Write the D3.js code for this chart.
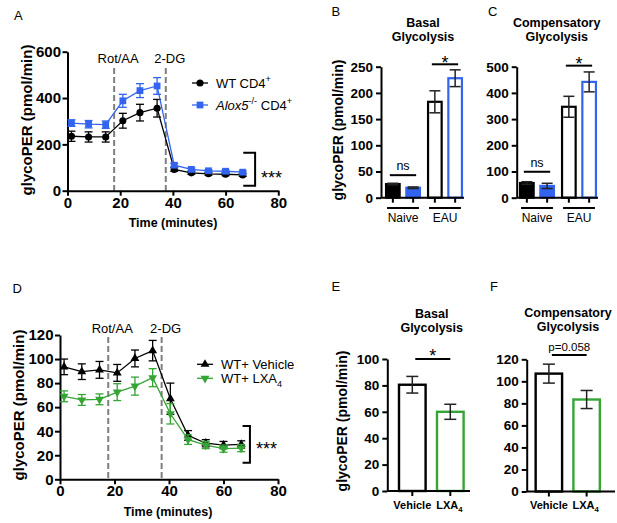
<!DOCTYPE html>
<html><head><meta charset="utf-8">
<script src="https://cdn.jsdelivr.net/npm/d3@7"></script>
<style>body{margin:0;background:#fff} svg{display:block}</style>
</head><body><svg id="c" width="617" height="523"></svg>
<script>
// ---------- DATA ----------
const times = [1.5, 8, 14.5, 21, 27.5, 34, 40.5, 47, 53.5, 60, 66.5];
const timeTicks = [0, 20, 40, 60, 80];
const injTimes = [17.7, 37.3];
const injLabels = ["Rot/AA", "2-DG"];

// Panel A
const wtA = [235, 232, 232, 302, 337, 356, 92, 77, 73, 71, 68];
const wtAErr = [22, 22, 22, 32, 36, 38, 8, 6, 6, 6, 6];
const koA = [292, 287, 285, 388, 432, 452, 110, 92, 86, 84, 80];
const koAErr = [14, 16, 16, 28, 30, 36, 8, 6, 5, 5, 5];
const yTicksA = [0, 200, 400, 600];

// Panel D
const vehD = [93.5, 89.5, 91, 88.5, 100.5, 107, 67, 36.5, 30, 28.5, 29];
const vehDErr = [6.5, 6.5, 7, 7, 7, 8.5, 13, 4, 3, 3, 3];
const lxaD = [69, 66, 66.5, 72.5, 77.5, 84.5, 54.5, 33, 28.5, 25.5, 26];
const lxaDErr = [4.5, 4.5, 4.5, 7, 7.5, 7.5, 8.5, 4, 3, 3, 3];
const yTicksD = [0, 20, 40, 60, 80, 100, 120];

// Panels B, C
const groupsBC = ["Naive", "EAU"];
const seriesBC = ["WT", "Alox5"];
const basalWT = [26, 183], basalWTErr = [1.5, 21];
const basalKO = [19, 228], basalKOErr = [1.5, 16];
const compWT = [56, 347], compWTErr = [5, 40];
const compKO = [45, 442], compKOErr = [10, 38];
const yTicksB = [0, 50, 100, 150, 200, 250];
const yTicksC = [0, 100, 200, 300, 400, 500];

// Panels E, F
const catsEF = ["Vehicle", "LXA4"];
const basalEF = [80.5, 60], basalEFErr = [6.3, 5.7];
const compEF = [107, 83.5], compEFErr = [8.6, 8.2];
const yTicksE = [0, 20, 40, 60, 80, 100];
const yTicksF = [0, 20, 40, 60, 80, 100, 120];

// ---------- HELPERS ----------
const FONT = '"Liberation Sans", Arial, Helvetica, sans-serif';
const BLUE = "#3264f0", GREEN = "#35a535", GRAY = "#7f7f7f";
const svg = d3.select("#c");
svg.append("rect").attr("width", 617).attr("height", 523).attr("fill", "#fff");

function txt(g, x, y, s, o = {}) {
  const t = g.append("text").attr("x", x).attr("y", y).text(s)
    .attr("font-family", FONT).attr("font-size", o.size || 13)
    .attr("font-weight", o.weight || "normal")
    .attr("text-anchor", o.anchor || "start").attr("fill", "#000");
  if (o.style) t.attr("font-style", o.style);
  return t;
}
function rich(g, x, y, parts, o = {}) {
  const size = o.size || 13;
  const t = g.append("text").attr("x", x).attr("y", y).attr("font-family", FONT)
    .attr("font-size", size).attr("font-weight", o.weight || "normal")
    .attr("text-anchor", o.anchor || "start").attr("fill", "#000");
  let shift = 0;
  parts.forEach(p => {
    const target = p.sup ? -0.42 * size : p.sub ? 0.28 * size : 0;
    const ts = t.append("tspan").text(p.t).attr("dy", target - shift);
    shift = target;
    if (p.sup || p.sub) ts.attr("font-size", size * 0.7);
    if (p.italic) ts.attr("font-style", "italic");
  });
  return t;
}
function ylabel(g, bx, cy, size) {
  g.append("text").attr("transform", `translate(${bx},${cy}) rotate(-90)`)
    .attr("text-anchor", "middle").attr("font-family", FONT).attr("font-size", size)
    .attr("font-weight", "bold").text("glycoPER (pmol/min)");
}
function styleAxis(a, fs) {
  a.attr("font-family", FONT).attr("font-size", fs);
  a.select(".domain").attr("stroke-width", 2).attr("stroke", "#000");
  a.selectAll(".tick line").attr("stroke-width", 2).attr("stroke", "#000");
  a.selectAll(".tick text").attr("font-weight", "bold").attr("fill", "#000");
}
function errBar(g, cx, yv, cap, color, sw) {
  g.append("line").attr("x1", cx).attr("x2", cx).attr("y1", yv[0]).attr("y2", yv[1]).attr("stroke", color).attr("stroke-width", sw);
  yv.forEach(yy => g.append("line").attr("x1", cx - cap / 2).attr("x2", cx + cap / 2).attr("y1", yy).attr("y2", yy).attr("stroke", color).attr("stroke-width", sw));
}
function panelLetter(x, y, s) { txt(svg, x, y, s, { size: 13 }); }

// ---------- LINE PANELS ----------
function linePanel(cfg) {
  const g = svg.append("g");
  const x = d3.scaleLinear().domain([0, 80]).range(cfg.xr);
  const y = d3.scaleLinear().domain([0, cfg.yMax]).range(cfg.yr);
  injTimes.forEach((t, i) => {
    g.append("line").attr("x1", x(t)).attr("x2", x(t)).attr("y1", cfg.dashTop).attr("y2", y(0))
      .attr("stroke", GRAY).attr("stroke-width", 2).attr("stroke-dasharray", "6,3");
    txt(g, x(t) + 4, cfg.injY, injLabels[i], { anchor: "middle", size: 13 });
  });
  const ya = g.append("g").attr("transform", `translate(${cfg.xr[0]},0)`)
    .call(d3.axisLeft(y).tickValues(cfg.yTicks).tickSize(5).tickSizeOuter(0).tickPadding(1.5));
  const xa = g.append("g").attr("transform", `translate(0,${cfg.yr[0]})`)
    .call(d3.axisBottom(x).tickValues(timeTicks).tickSize(5).tickSizeOuter(0).tickPadding(1.5));
  styleAxis(ya, 15); styleAxis(xa, 15);
  cfg.series.forEach(s => {
    const pts = times.map((t, i) => ({ t, v: s.vals[i], e: s.errs[i] }));
    pts.forEach(p => errBar(g, x(p.t), [y(p.v + p.e), y(p.v - p.e)], 8, s.color, 1.3));
    g.append("path").datum(pts).attr("d", d3.line().x(p => x(p.t)).y(p => y(p.v)))
      .attr("fill", "none").attr("stroke", s.color).attr("stroke-width", 1.3);
    g.selectAll(null).data(pts).join("path")
      .attr("transform", p => `translate(${x(p.t)},${y(p.v)})${s.down ? " rotate(180)" : ""}`)
      .attr("d", d3.symbol().type(s.symbol).size(s.size)).attr("fill", s.color);
  });
  // significance bracket
  const b = cfg.bracket;
  g.append("path").attr("d", `M${x(b.t0)},${y(b.top)}H${x(b.t1)}V${y(b.bot)}H${x(b.t0)}`)
    .attr("fill", "none").attr("stroke", "#000").attr("stroke-width", 2);
  txt(g, x(b.t1) + 6, b.starY, "***", { size: 18 });
  // x label
  txt(g, cfg.xlab[0], cfg.xlab[1], "Time (minutes)", { size: 12.5, weight: "bold", anchor: "middle" });
  ylabel(g, cfg.ylab[0], cfg.ylab[1], 15);
  // legend
  cfg.series.forEach((s, i) => {
    const ly = cfg.leg[1] + i * cfg.leg[2];
    g.append("line").attr("x1", cfg.leg[0] - 8).attr("x2", cfg.leg[0] + 8).attr("y1", ly).attr("y2", ly)
      .attr("stroke", s.color).attr("stroke-width", 1.3);
    g.append("path").attr("transform", `translate(${cfg.leg[0]},${ly})${s.down ? " rotate(180)" : ""}`)
      .attr("d", d3.symbol().type(s.symbol).size(s.size)).attr("fill", s.color);
    rich(g, cfg.leg[0] + 16, ly + 4.7, s.label, { size: 13 });
  });
}

linePanel({
  xr: [67.5, 278.3], yr: [190.7, 51.7], yMax: 600, yTicks: yTicksA,
  dashTop: 68, injY: 63,
  series: [
    { vals: wtA, errs: wtAErr, color: "#000", symbol: d3.symbolCircle, size: 40,
      label: [{ t: "WT CD4" }, { t: "+", sup: true }] },
    { vals: koA, errs: koAErr, color: BLUE, symbol: d3.symbolSquare, size: 46,
      label: [{ t: "Alox5", italic: true }, { t: "-/-", sup: true }, { t: " CD4" }, { t: "+", sup: true }] }
  ],
  bracket: { t0: 66.7, t1: 71.2, top: 164, bot: 21.6, starY: 184 },
  xlab: [173, 227], ylab: [32, 120], leg: [200, 83, 22]
});
linePanel({
  xr: [60, 278], yr: [479.3, 335], yMax: 120, yTicks: yTicksD,
  dashTop: 337, injY: 333,
  series: [
    { vals: vehD, errs: vehDErr, color: "#000", symbol: d3.symbolTriangle, size: 34,
      label: [{ t: "WT+ Vehicle" }] },
    { vals: lxaD, errs: lxaDErr, color: GREEN, symbol: d3.symbolTriangle, size: 34, down: true,
      label: [{ t: "WT+ LXA" }, { t: "4", sub: true }] }
  ],
  bracket: { t0: 67, t1: 69.7, top: 44.3, bot: 13.8, starY: 454.5 },
  xlab: [168, 516], ylab: [24, 405], leg: [205, 364.3, 14]
});

// ---------- GROUPED BAR PANELS (B, C) ----------
function groupedBars(cfg) {
  const g = svg.append("g");
  const y = d3.scaleLinear().domain([0, cfg.yMax]).range([cfg.yb, cfg.yt]);
  const xg = d3.scaleBand().domain(groupsBC).range(cfg.gr);
  const xs = d3.scaleBand().domain(seriesBC).range([0, xg.bandwidth()]).paddingInner(0.33).paddingOuter(0.2);
  const cx = (gi, si) => xg(groupsBC[gi]) + xs(seriesBC[si]) + xs.bandwidth() / 2;
  const bw = xs.bandwidth();
  const colors = ["#000", BLUE];
  const filled = [true, false];
  cfg.series.forEach((s, si) => {
    s.vals.forEach((v, gi) => {
      const c = cx(gi, si);
      g.append("rect").attr("x", c - bw / 2).attr("y", y(v)).attr("width", bw).attr("height", y(0) - y(v))
        .attr("fill", filled[gi] ? colors[si] : "#fff").attr("stroke", colors[si]).attr("stroke-width", 2.2);
      errBar(g, c, [y(v + s.errs[gi]), y(v - s.errs[gi])], 11, "#222", 1.5);
    });
  });
  const ya = g.append("g").attr("transform", `translate(${cfg.ax},0)`)
    .call(d3.axisLeft(y).tickValues(cfg.yTicks).tickSize(5).tickSizeOuter(0).tickPadding(3));
  styleAxis(ya, 13.5);
  g.append("line").attr("x1", cfg.ax).attr("x2", cfg.axEnd).attr("y1", y(0)).attr("y2", y(0)).attr("stroke", "#000").attr("stroke-width", 2);
  groupsBC.forEach((gr, gi) => seriesBC.forEach((s, si) => {
    const c = cx(gi, si);
    g.append("line").attr("x1", c).attr("x2", c).attr("y1", y(0)).attr("y2", y(0) + 5).attr("stroke", "#000").attr("stroke-width", 2);
  }));
  // group underlines and labels
  groupsBC.forEach((gr, gi) => {
    const x0 = cx(gi, 0) - bw / 2 + 1, x1 = cx(gi, 1) + bw / 2 - 1;
    g.append("line").attr("x1", x0).attr("x2", x1).attr("y1", 208).attr("y2", 208).attr("stroke", "#000").attr("stroke-width", 2);
    txt(g, (x0 + x1) / 2, 222, gr, { size: 12, anchor: "middle" });
  });
  // significance
  const sigs = [{ gi: 0, yv: cfg.nsY, label: "ns" }, { gi: 1, yv: cfg.starY, label: "*" }];
  sigs.forEach(sg => {
    const x0 = cx(sg.gi, 0) - 3, x1 = cx(sg.gi, 1) + 3;
    g.append("line").attr("x1", x0).attr("x2", x1).attr("y1", y(sg.yv)).attr("y2", y(sg.yv)).attr("stroke", "#000").attr("stroke-width", 2);
    if (sg.label === "ns") txt(g, (x0 + x1) / 2, y(sg.yv) - 5, "ns", { size: 12.5, anchor: "middle" });
    else txt(g, (x0 + x1) / 2, y(sg.yv) + 4.5, "*", { size: 18, anchor: "middle" });
  });
  // title
  txt(g, cfg.tx, cfg.ty[0], cfg.title[0], { size: 12.5, weight: "bold", anchor: "middle" });
  txt(g, cfg.tx, cfg.ty[1], cfg.title[1], { size: 12.5, weight: "bold", anchor: "middle" });
  if (cfg.ylab) ylabel(g, cfg.ylab[0], cfg.ylab[1], 14);
}
groupedBars({
  yb: 197.7, yt: 66.7, yMax: 250, yTicks: yTicksB, ax: 381, axEnd: 464, gr: [382, 466],
  series: [{ vals: basalWT, errs: basalWTErr }, { vals: basalKO, errs: basalKOErr }],
  nsY: 43, starY: 254.6, title: ["Basal", "Glycolysis"], tx: 423, ty: [26.5, 40.5], ylab: [342.5, 130]
});
groupedBars({
  yb: 197.7, yt: 66.7, yMax: 500, yTicks: yTicksC, ax: 516.7, axEnd: 598, gr: [516, 600],
  series: [{ vals: compWT, errs: compWTErr }, { vals: compKO, errs: compKOErr }],
  nsY: 99, starY: 504, title: ["Compensatory", "Glycolysis"], tx: 556.7, ty: [27, 41]
});

// ---------- SIMPLE BAR PANELS (E, F) ----------
function simpleBars(cfg) {
  const g = svg.append("g");
  const y = d3.scaleLinear().domain([0, cfg.yMax]).range([cfg.yb, cfg.yt]);
  const x = d3.scaleBand().domain(catsEF).range(cfg.xr).paddingInner(0.3).paddingOuter(0.15);
  const colors = ["#000", GREEN];
  cfg.vals.forEach((v, i) => {
    const c = x(catsEF[i]) + x.bandwidth() / 2;
    g.append("rect").attr("x", x(catsEF[i])).attr("y", y(v)).attr("width", x.bandwidth()).attr("height", y(0) - y(v))
      .attr("fill", "#fff").attr("stroke", colors[i]).attr("stroke-width", 2.4);
    errBar(g, c, [y(v + cfg.errs[i]), y(v - cfg.errs[i])], 12, "#222", 1.5);
  });
  const ya = g.append("g").attr("transform", `translate(${cfg.ax},0)`)
    .call(d3.axisLeft(y).tickValues(cfg.yTicks).tickSize(5).tickSizeOuter(0).tickPadding(3));
  styleAxis(ya, 13.5);
  g.append("line").attr("x1", cfg.ax).attr("x2", cfg.axEnd).attr("y1", y(0)).attr("y2", y(0)).attr("stroke", "#000").attr("stroke-width", 2);
  catsEF.forEach((k, i) => {
    const c = x(k) + x.bandwidth() / 2;
    g.append("line").attr("x1", c).attr("x2", c).attr("y1", y(0)).attr("y2", y(0) + 5).attr("stroke", "#000").attr("stroke-width", 2);
  });
  const c0 = x(catsEF[0]) + x.bandwidth() / 2, c1 = x(catsEF[1]) + x.bandwidth() / 2;
  txt(g, c0, 509, "Vehicle", { size: 11, weight: "bold", anchor: "middle" });
  rich(g, c1 - 1, 509, [{ t: "LXA" }, { t: "4", sub: true }], { size: 11, weight: "bold", anchor: "middle" });
  // significance
  g.append("line").attr("x1", c0 + 3).attr("x2", c1).attr("y1", y(cfg.sigY)).attr("y2", y(cfg.sigY)).attr("stroke", "#000").attr("stroke-width", 2);
  if (cfg.sigLabel === "*") txt(g, (c0 + c1) / 2 + 1.5, y(cfg.sigY) + 3, "*", { size: 18, anchor: "middle" });
  else txt(g, (c0 + c1) / 2 + 1.5, y(cfg.sigY) - 4, cfg.sigLabel, { size: 11.5, anchor: "middle" });
  txt(g, cfg.tx, cfg.ty[0], cfg.title[0], { size: 12.5, weight: "bold", anchor: "middle" });
  txt(g, cfg.tx, cfg.ty[1], cfg.title[1], { size: 12.5, weight: "bold", anchor: "middle" });
  if (cfg.ylab) ylabel(g, cfg.ylab[0], cfg.ylab[1], 14);
}
simpleBars({
  yb: 491, yt: 359, yMax: 100, yTicks: yTicksE, ax: 387.3, axEnd: 470, xr: [393.3, 469.3],
  vals: basalEF, errs: basalEFErr, sigY: 100, sigLabel: "*",
  title: ["Basal", "Glycolysis"], tx: 431.7, ty: [317.5, 331.5], ylab: [346.5, 421]
});
simpleBars({
  yb: 491.5, yt: 359.3, yMax: 120, yTicks: yTicksF, ax: 526.7, axEnd: 615, xr: [530, 605.5],
  vals: compEF, errs: compEFErr, sigY: 124, sigLabel: "p=0.058",
  title: ["Compensatory", "Glycolysis"], tx: 568, ty: [317, 331]
});

// panel letters
panelLetter(14, 20, "A");
panelLetter(331.5, 16, "B");
panelLetter(488, 16, "C");
panelLetter(12.5, 293, "D");
panelLetter(331.5, 291, "E");
panelLetter(490, 291, "F");
</script>
</body></html>
